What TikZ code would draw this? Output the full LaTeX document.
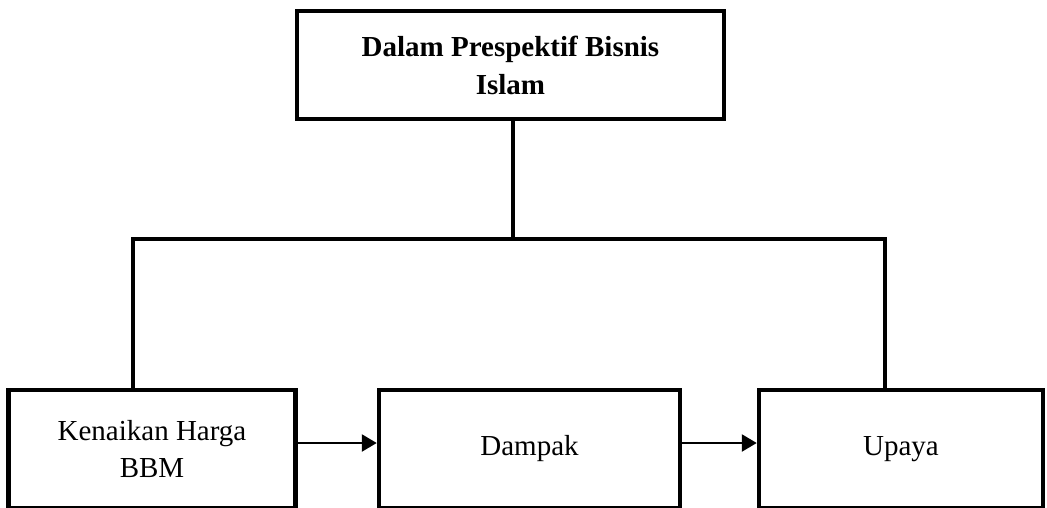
\documentclass[tikz,border=0pt]{standalone}
\usepackage{fontspec}
\setmainfont{Liberation Serif}
\usetikzlibrary{arrows.meta}
\tikzset{
	kotak/.style={draw, line width=4.5pt, inner sep=0pt, align=center, font=\fontsize{29}{37}\selectfont},
	garis/.style={line width=4pt},
	panah/.style={line width=2.5pt, -{Triangle[length=15pt, width=17pt]}}
}

\begin{document}
\begin{tikzpicture}[x=1pt, y=-1pt]
	\useasboundingbox (0,0) rectangle (1047,507);
	\node[kotak, minimum width=427pt, minimum height=108pt, font=\fontsize{29}{38}\selectfont\bfseries] (prespektif) at (510.5,65) {Dalam Prespektif Bisnis\\Islam};
	\node[kotak, minimum width=287pt, minimum height=118pt] (kenaikan) at (152,449) {Kenaikan Harga\\BBM};
	\node[kotak, minimum width=301pt, minimum height=118pt] (dampak) at (529.5,449) {Dampak};
	\node[kotak, minimum width=284pt, minimum height=118pt] (upaya) at (901,449) {Upaya};
	\coordinate (cabang) at (513,239);
	\coordinate (kiri) at (133,239);
	\coordinate (kanan) at (885,239);
	\draw[garis] (prespektif.south -| cabang) -- (cabang);
	\draw[garis] (kiri |- kenaikan.north) -- (kiri) -- (kanan) -- (kanan |- upaya.north);
	\draw[panah] ([yshift=6pt]kenaikan.east) -- ([yshift=6pt]dampak.west);
	\draw[panah] ([yshift=6pt]dampak.east) -- ([yshift=6pt]upaya.west);
\end{tikzpicture}
\end{document}
